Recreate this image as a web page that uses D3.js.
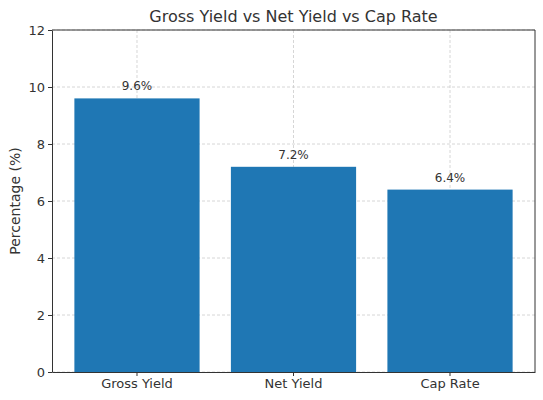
<!DOCTYPE html>
<html><head><meta charset="utf-8">
<script src="https://cdn.jsdelivr.net/npm/d3@7"></script>
<style>body{margin:0;background:#fff}text{font-family:"DejaVu Sans",sans-serif}</style>
</head><body><svg id="c" width="543" height="400"></svg>
<script>
const categories=["Gross Yield","Net Yield","Cap Rate"];
const values=[9.6,7.2,6.4];
const yTicks=[0,2,4,6,8,10,12];
const svg=d3.select("#c");
const m={l:52,r:8,t:30,b:28},W=543,H=400;
const x=d3.scaleBand().domain(categories).range([m.l,W-m.r]).paddingInner(0.2).paddingOuter(0.143);
const y=d3.scaleLinear().domain([0,12]).range([H-m.b,m.t]);
const g=svg.append("g");
// grid
g.selectAll(".gy").data(yTicks).join("line").attr("x1",m.l).attr("x2",W-m.r).attr("y1",d=>y(d)).attr("y2",d=>y(d)).attr("stroke","#ccc").attr("stroke-dasharray","3,2").attr("stroke-width",0.8);
g.selectAll(".gx").data(categories).join("line").attr("x1",d=>x(d)+x.bandwidth()/2).attr("x2",d=>x(d)+x.bandwidth()/2).attr("y1",m.t).attr("y2",H-m.b).attr("stroke","#ccc").attr("stroke-dasharray","3,2").attr("stroke-width",0.8);
g.selectAll("rect").data(values).join("rect").attr("x",(d,i)=>x(categories[i])).attr("width",x.bandwidth()).attr("y",d=>y(d)).attr("height",d=>y(0)-y(d)).attr("fill","#1f77b4");
// grid over bars like matplotlib? keep grid under
g.selectAll(".vl").data(values).join("text").attr("x",(d,i)=>x(categories[i])+x.bandwidth()/2).attr("y",d=>y(d)-8).attr("text-anchor","middle").attr("font-size",12).attr("fill","#333").text(d=>d.toFixed(1)+"%");
const ax=svg.append("g").attr("transform",`translate(0,${H-m.b})`).call(d3.axisBottom(x).tickSize(4).tickSizeOuter(0));
const ay=svg.append("g").attr("transform",`translate(${m.l},0)`).call(d3.axisLeft(y).tickValues(yTicks).tickSize(4).tickSizeOuter(0));
[ax,ay].forEach(a=>{a.selectAll("text").attr("font-size",13).attr("fill","#333").style("font-family","DejaVu Sans");a.select(".domain").attr("stroke","#333");a.selectAll(".tick line").attr("stroke","#333");});
svg.append("line").attr("x1",W-m.r).attr("x2",W-m.r).attr("y1",m.t).attr("y2",H-m.b).attr("stroke","#333");
svg.append("line").attr("x1",m.l).attr("x2",W-m.r).attr("y1",m.t).attr("y2",m.t).attr("stroke","#333");
svg.append("text").attr("x",(m.l+W-m.r)/2).attr("y",22).attr("text-anchor","middle").attr("font-size",16).attr("fill","#333").text("Gross Yield vs Net Yield vs Cap Rate");
svg.append("text").attr("transform",`translate(20,${(m.t+H-m.b)/2}) rotate(-90)`).attr("text-anchor","middle").attr("font-size",14).attr("fill","#333").text("Percentage (%)");
</script></body></html>
